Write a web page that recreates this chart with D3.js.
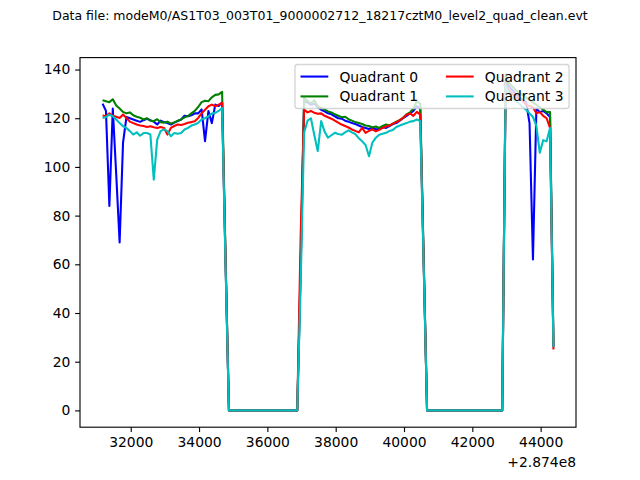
<!DOCTYPE html>
<html>
<head>
<meta charset="utf-8">
<script src="https://cdn.jsdelivr.net/npm/d3@7"></script>
<style>
    body { margin: 0; background: #fff; }
    svg { display: block; font-family: "DejaVu Sans", sans-serif; }
</style>
</head>
<body>
<div id="chart"></div>
<script>
const dataFile = 'Data file: modeM0/AS1T03_003T01_9000002712_18217cztM0_level2_quad_clean.evt';
const offsetLabel = '+2.874e8';
const quadrants = ['Quadrant 0', 'Quadrant 1', 'Quadrant 2', 'Quadrant 3'];
const colors = ['#0000ff', '#008000', '#ff0000', '#00bfbf'];
const xTicks = [32000, 34000, 36000, 38000, 40000, 42000, 44000];
const yTicks = [0, 20, 40, 60, 80, 100, 120, 140];

// bin times (s, relative to 2.874e8); zero stretches kept as their end points
const times = [
    31175, 31275, 31375, 31475, 31575, 31675, 31775, 31875, 31975, 32075,
    32175, 32275, 32375, 32475, 32575, 32675, 32775, 32875, 32975, 33075,
    33175, 33275, 33375, 33475, 33575, 33675, 33775, 33875, 33975, 34075,
    34175, 34275, 34375, 34475, 34575, 34675, 34775, 34875,
    36875, 36975,
    37075, 37175, 37275, 37375, 37475, 37575, 37675, 37775, 37875, 37975,
    38075, 38175, 38275, 38375, 38475, 38575, 38675, 38775, 38875, 38975,
    39075, 39175, 39275, 39375, 39475, 39575, 39675, 39775, 39875, 39975,
    40075, 40175, 40275, 40375, 40475, 40575, 40675,
    42875,
    42975, 43075, 43175, 43275, 43375, 43475, 43575, 43675, 43775, 43875,
    43975, 44075, 44175, 44275, 44375
];

const q0 = [
    126.0, 123.0, 84.0, 124.0, 97.0, 69.0, 110.0, 120.5, 120.0, 119.5,
    119.0, 118.5, 119.2, 119.8, 119.2, 118.6, 117.4, 119.0, 118.4, 118.0,
    117.4, 118.2, 118.8, 119.5, 121.0, 120.8, 121.2, 122.0, 122.0, 123.6,
    110.6, 123.0, 118.0, 125.6, 125.0, 126.5, 62, 0,
    0, 58,
    127.0, 126.5, 125.5, 126.0, 124.5, 123.5, 122.8, 122.0, 121.6, 120.8,
    120.0, 119.8, 119.0, 118.6, 118.0, 117.6, 117.0, 116.4, 116.0, 115.6,
    116.2, 115.4, 115.8, 116.4, 116.0, 116.8, 117.6, 118.0, 119.0, 120.0,
    121.0, 122.0, 123.0, 125.0, 124.0, 62, 0,
    0,
    135.5, 133.0, 131.5, 130.0, 128.5, 127.5, 126.5, 118.0, 62.0, 124.0,
    122.5, 123.0, 122.0, 120.5, 26
];

const q1 = [
    127.4, 127.0, 126.6, 127.8, 125.2, 124.0, 122.6, 122.0, 122.4, 121.2,
    120.6, 120.2, 119.5, 120.0, 119.0, 118.8, 119.6, 118.4, 118.2, 118.6,
    117.8, 118.2, 119.0, 119.5, 120.4, 120.9, 122.0, 123.0, 124.6, 126.6,
    127.2, 127.0, 128.6, 129.6, 129.8, 130.8, 64, 0,
    0, 60,
    128.4, 127.2, 126.0, 127.4, 125.0, 124.2, 123.6, 122.8, 122.4, 121.6,
    121.0, 120.4, 120.6, 119.6, 119.0, 118.4, 118.0, 117.6, 117.0, 116.8,
    116.2, 116.6, 116.0, 116.8, 117.4, 117.0, 117.8, 118.6, 119.2, 120.2,
    121.6, 122.4, 124.0, 127.0, 126.0, 63, 0,
    0,
    138.0, 134.5, 133.0, 131.5, 130.5, 129.5, 128.5, 127.5, 126.5, 125.5,
    124.5, 123.5, 122.5, 122.5, 27
];

const q2 = [
    121.1, 120.8, 122.0, 121.0, 120.6, 120.1, 121.5, 120.1, 118.6, 118.0,
    117.4, 117.0, 116.8, 116.4, 116.7, 116.3, 116.0, 116.4, 116.0, 113.3,
    116.0, 116.8, 117.4, 117.2, 117.6, 118.1, 118.4, 118.8, 120.1, 122.0,
    123.5, 124.9, 125.6, 124.9, 125.6, 126.3, 62, 0,
    0, 72,
    123.6, 122.4, 123.0, 122.2, 121.8, 122.0, 121.0, 120.4, 119.8, 119.0,
    118.2, 117.4, 116.8, 116.2, 115.4, 114.8, 114.2, 116.0, 114.0, 114.8,
    115.4, 114.6, 115.2, 116.0, 116.6, 117.0, 117.8, 118.4, 119.2, 120.2,
    121.4, 122.0, 121.0, 122.6, 121.5, 61, 0,
    0,
    134.0, 131.5, 130.0, 128.5, 128.0, 127.0, 125.5, 125.0, 124.5, 122.0,
    122.5, 121.0, 120.0, 116.0, 25
];

const q3 = [
    120.1, 120.5, 121.5, 120.8, 119.5, 118.0, 116.7, 116.0, 114.7, 113.3,
    114.2, 112.8, 113.9, 113.9, 113.3, 94.8, 111.2, 114.7, 115.4, 114.7,
    112.6, 113.9, 113.6, 113.9, 115.4, 116.0, 117.0, 117.4, 118.1, 119.5,
    120.0, 120.8, 121.9, 122.2, 123.0, 124.2, 60, 0,
    0, 52,
    114.0, 119.0, 120.0, 113.0, 106.5, 118.8, 114.5, 112.0, 113.0, 114.0,
    113.5, 113.2, 114.2, 115.0, 114.2, 113.5, 111.8, 110.5, 109.0, 104.4,
    110.0, 112.0, 113.2, 113.6, 114.0, 114.8, 115.2, 116.4, 117.0, 117.5,
    118.0, 118.6, 118.8, 119.5, 118.8, 60, 0,
    0,
    133.5, 130.0, 128.0, 127.0, 126.0, 124.5, 123.5, 122.0, 120.5, 117.0,
    105.8, 111.0, 110.5, 116.0, 26
];

const series = [q0, q1, q2, q3];

const width = 640;
const height = 480;
const pt = 100 / 72;                       // points to pixels at 100 dpi
const margin = { top: 57.6, right: 64, bottom: 52.8, left: 80 };
const fontSize = 10 * pt;

const svg = d3.select('#chart')
    .append('svg')
    .attr('width', width)
    .attr('height', height);

// Scales with matplotlib's 5% padding
const [tMin, tMax] = d3.extent(times);
const tPad = (tMax - tMin) * 0.05;
const vMax = d3.max(series, s => d3.max(s));
const vMin = d3.min(series, s => d3.min(s));
const vPad = (vMax - vMin) * 0.05;

const x = d3.scaleLinear()
    .domain([tMin - tPad, tMax + tPad])
    .range([margin.left, width - margin.right]);

const y = d3.scaleLinear()
    .domain([vMin - vPad, vMax + vPad])
    .range([height - margin.bottom, margin.top]);

// Title
svg.append('text')
    .attr('x', width / 2)
    .attr('y', 20)
    .attr('text-anchor', 'middle')
    .style('font-size', (9 * pt) + 'px')
    .text(dataFile);

// Lines
const line = d3.line()
    .x((d, i) => x(times[i]))
    .y(d => y(d));

svg.append('g')
    .selectAll('path')
    .data(series)
    .enter()
    .append('path')
    .attr('d', line)
    .style('fill', 'none')
    .style('stroke', (d, i) => colors[i])
    .style('stroke-width', 1.5 * pt)
    .style('stroke-linejoin', 'round');

// Axes
const xAxis = svg.append('g')
    .attr('transform', `translate(0,${height - margin.bottom})`)
    .call(d3.axisBottom(x).tickValues(xTicks).tickFormat(d3.format('d'))
        .tickSize(3.5 * pt).tickPadding(3.5 * pt));

const yAxis = svg.append('g')
    .attr('transform', `translate(${margin.left},0)`)
    .call(d3.axisLeft(y).tickValues(yTicks).tickFormat(d3.format('d'))
        .tickSize(3.5 * pt).tickPadding(3.5 * pt));

[xAxis, yAxis].forEach(g => {
    g.select('.domain').remove();
    g.attr('font-family', null).attr('font-size', null);
    g.selectAll('line').style('stroke', '#000').style('stroke-width', 0.8 * pt);
    g.selectAll('text').style('font-size', fontSize + 'px').style('fill', '#000');
});

svg.append('text')
    .attr('x', width - margin.right)
    .attr('y', 467)
    .attr('text-anchor', 'end')
    .style('font-size', fontSize + 'px')
    .text(offsetLabel);

// Frame
svg.append('rect')
    .attr('x', margin.left)
    .attr('y', margin.top)
    .attr('width', width - margin.left - margin.right)
    .attr('height', height - margin.top - margin.bottom)
    .style('fill', 'none')
    .style('stroke', '#000')
    .style('stroke-width', 0.8 * pt);

// Legend, two columns, upper right
const borderPad = 0.4 * fontSize;
const axesPad = 0.5 * fontSize;
const handleLen = 2.0 * fontSize;
const handlePad = 0.8 * fontSize;
const colSpacing = 2.0 * fontSize;
const rowGap = 0.5 * fontSize;
const rowHeight = 0.93 * fontSize;

const legend = svg.append('g');
const box = legend.append('rect');

const probe = legend.append('text').style('font-size', fontSize + 'px').text(quadrants[0]);
const labelWidth = d3.max(quadrants, q => probe.text(q).node().getComputedTextLength());
probe.remove();

const colWidth = handleLen + handlePad + labelWidth;
const boxW = 2 * borderPad + 2 * colWidth + colSpacing;
const boxH = 2 * borderPad + 2 * rowHeight + rowGap;
const boxX = width - margin.right - axesPad - boxW;
const boxY = margin.top + axesPad;

box.attr('x', boxX)
    .attr('y', boxY)
    .attr('width', boxW)
    .attr('height', boxH)
    .attr('rx', 0.2 * fontSize)
    .style('fill', '#fff')
    .style('fill-opacity', 0.8)
    .style('stroke', '#cccccc')
    .style('stroke-opacity', 0.8)
    .style('stroke-width', 1 * pt);

quadrants.forEach((q, i) => {
    const col = Math.floor(i / 2);
    const row = i % 2;
    const lx = boxX + borderPad + col * (colWidth + colSpacing);
    const ly = boxY + borderPad + rowHeight / 2 + row * (rowHeight + rowGap);
    legend.append('line')
        .attr('x1', lx)
        .attr('x2', lx + handleLen)
        .attr('y1', ly)
        .attr('y2', ly)
        .style('stroke', colors[i])
        .style('stroke-width', 1.5 * pt);
    legend.append('text')
        .attr('x', lx + handleLen + handlePad)
        .attr('y', ly)
        .attr('dy', '0.36em')
        .style('font-size', fontSize + 'px')
        .text(q);
});
</script>
</body>
</html>
